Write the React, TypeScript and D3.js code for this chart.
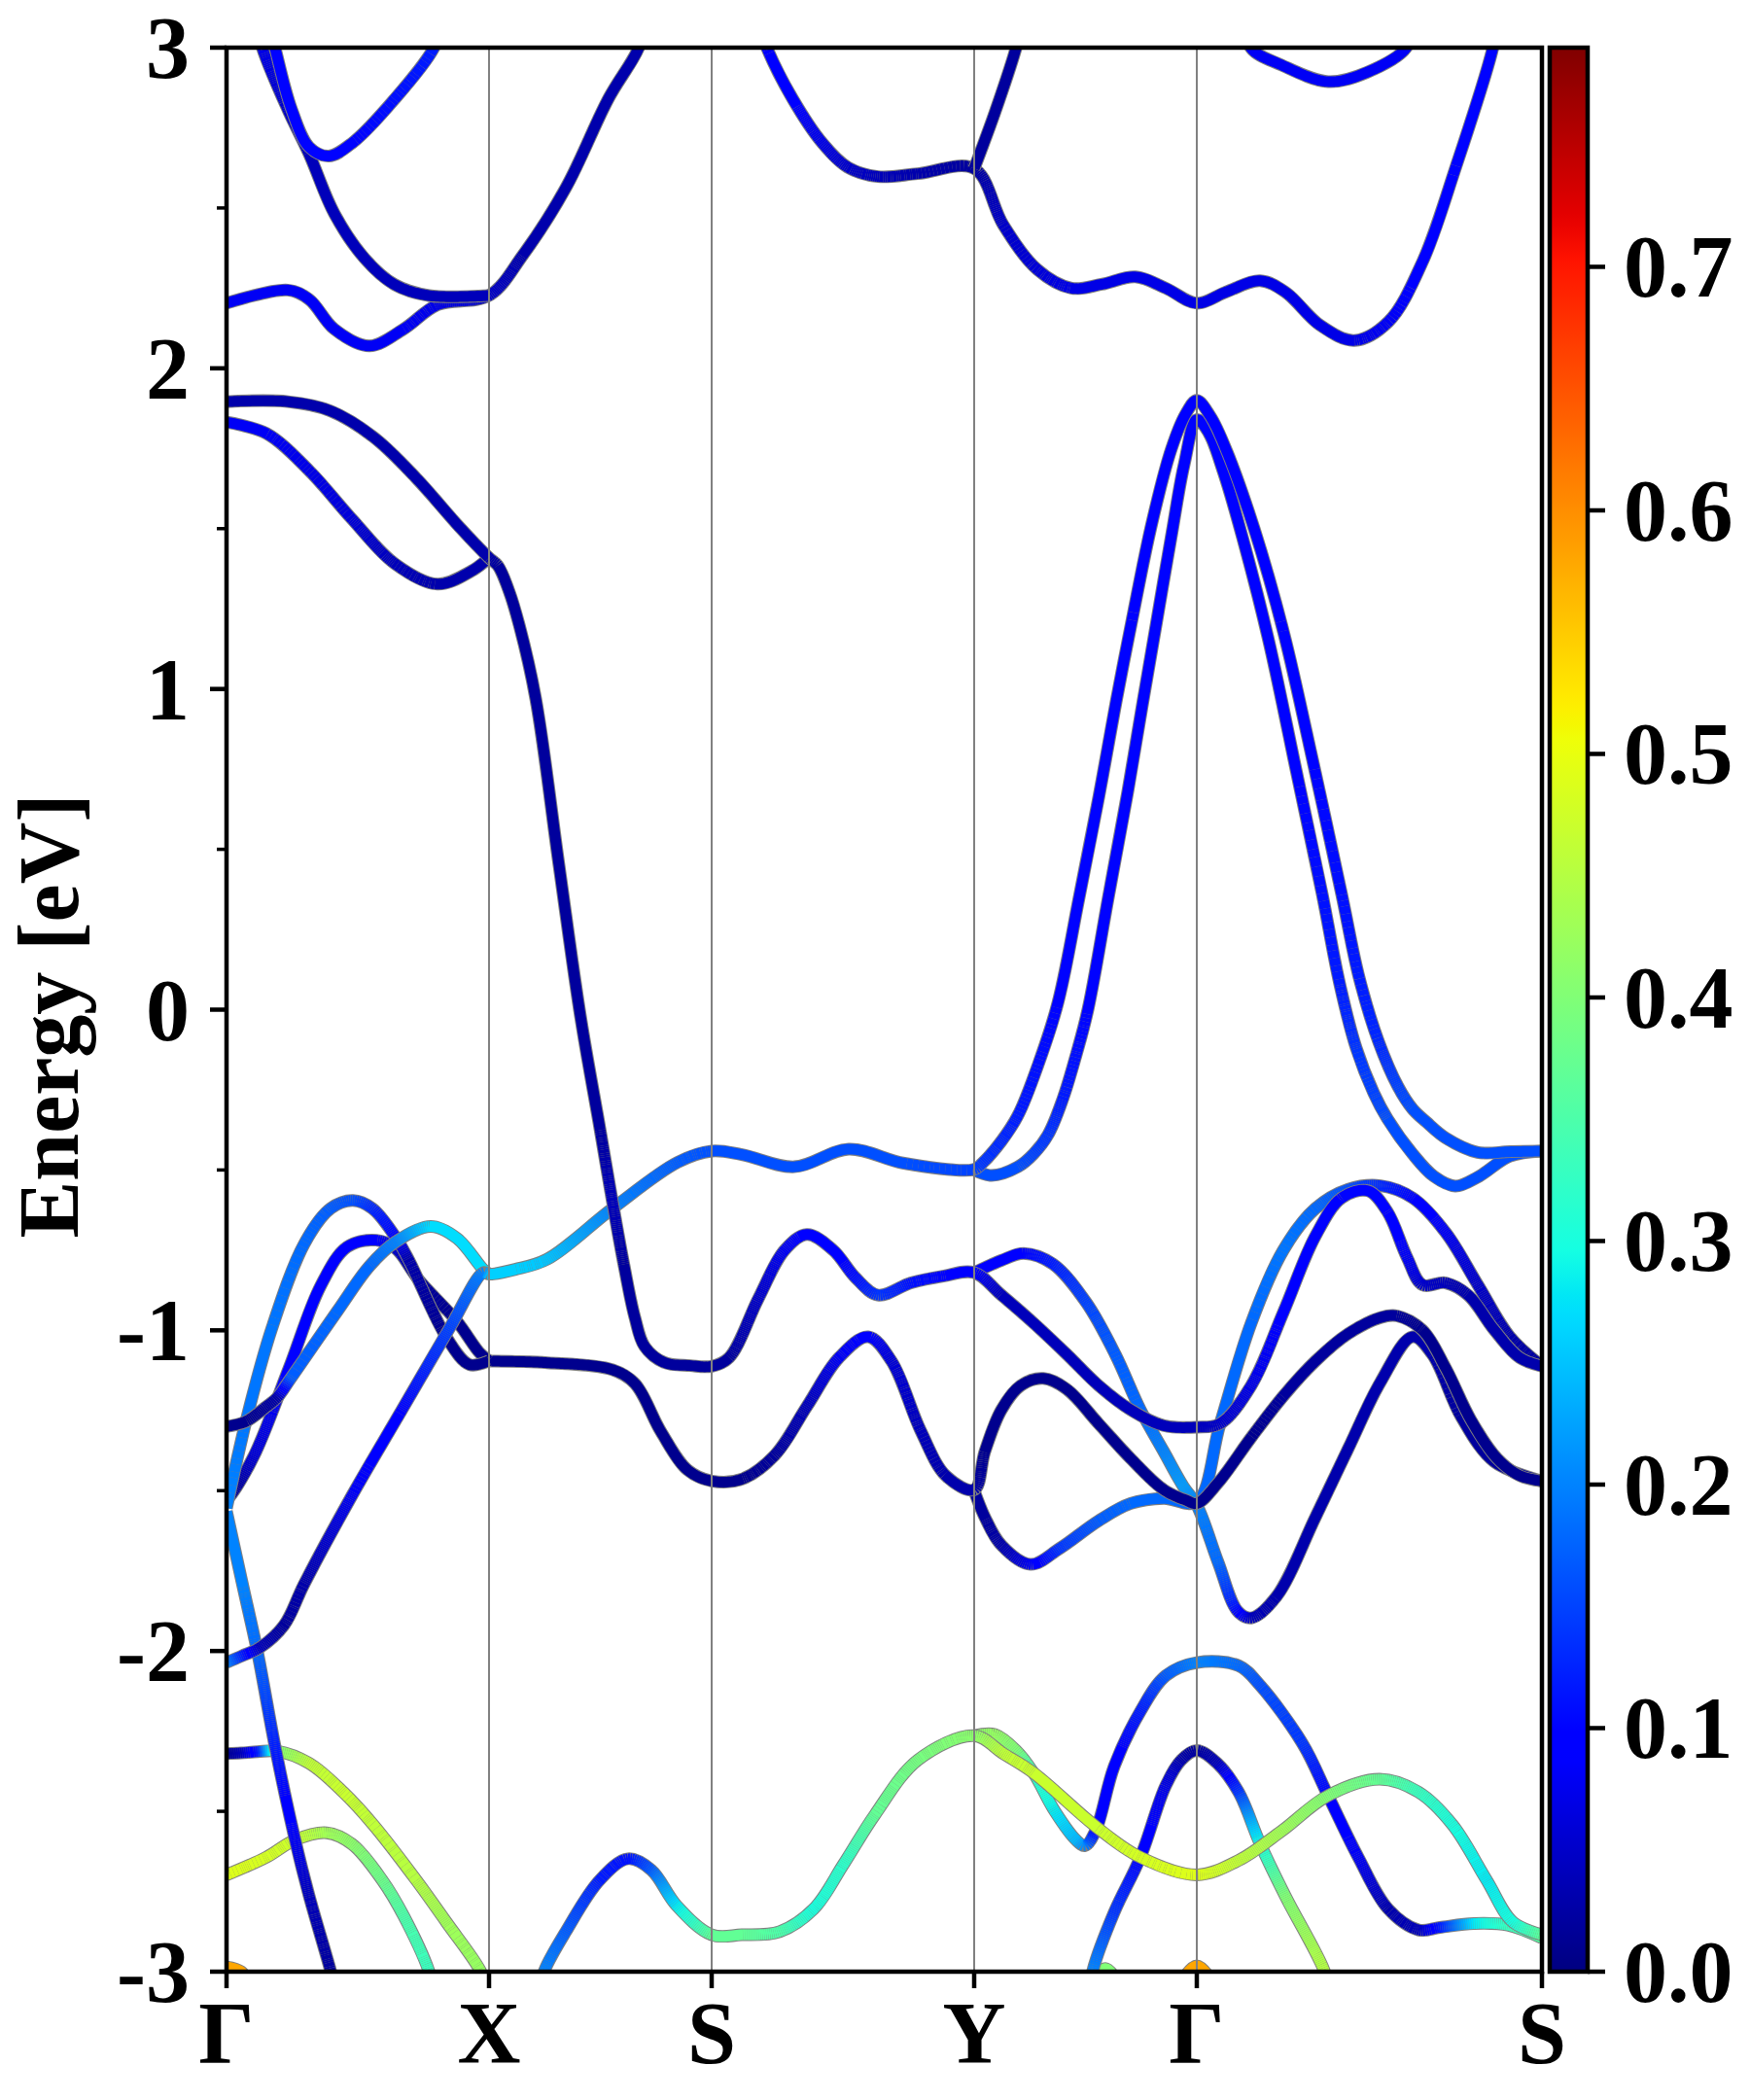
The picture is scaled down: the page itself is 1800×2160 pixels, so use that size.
import React, { useEffect, useRef } from 'react';
import * as d3 from 'd3';

// each point: [k (path distance), energy in eV, projected weight]
type Pt = [number, number, number];

const kTicks = [0, 2.7, 4.99, 7.69, 9.98, 13.53];
const kLabels = ['Γ', 'X', 'S', 'Y', 'Γ', 'S'];
const energyTicks = [-3, -2, -1, 0, 1, 2, 3];
const energyMinorTicks = [-2.5, -1.5, -0.5, 0.5, 1.5, 2.5];
const weightTicks = [0, 0.1, 0.2, 0.3, 0.4, 0.5, 0.6, 0.7];
const weightMax = 0.79;

const band01: Pt[] = [
  [0.0, 1.896, 0.03], [0.63, 1.896, 0.03], [1.07, 1.867, 0.03], [1.51, 1.786, 0.03], [1.95, 1.658, 0.03],
  [2.39, 1.507, 0.03], [2.7, 1.409, 0.03], [2.79, 1.385, 0.02], [2.9, 1.31, 0.02], [3.01, 1.2, 0.02],
  [3.18, 0.97, 0.02], [3.42, 0.45, 0.02], [3.64, -0.02, 0.02], [3.84, -0.37, 0.02], [3.97, -0.6, 0.04],
  [4.09, -0.8, 0.02], [4.2, -0.96, 0.02], [4.3, -1.05, 0.02], [4.5, -1.1, 0.02], [4.77, -1.11, 0.02],
  [4.99, -1.112, 0.02], [5.17, -1.085, 0.02], [5.47, -0.901, 0.05], [5.74, -0.75, 0.08], [5.97, -0.701, 0.09],
  [6.24, -0.75, 0.09], [6.47, -0.836, 0.11], [6.7, -0.89, 0.14], [7.04, -0.852, 0.11], [7.37, -0.831, 0.1],
  [7.69, -0.82, 0.09], [7.97, -0.89, 0.04], [8.3, -0.977, 0.04], [8.64, -1.074, 0.04], [8.97, -1.172, 0.04],
  [9.3, -1.248, 0.04], [9.64, -1.297, 0.04], [9.98, -1.302, 0.04], [10.22, -1.291, 0.05], [10.54, -1.172, 0.07],
  [10.87, -0.944, 0.09], [11.2, -0.706, 0.09], [11.47, -0.587, 0.1], [11.74, -0.565, 0.1], [11.94, -0.63, 0.1],
  [12.14, -0.771, 0.08], [12.3, -0.858, 0.05], [12.54, -0.852, 0.04], [12.77, -0.89, 0.03], [13.04, -0.999, 0.03],
  [13.3, -1.085, 0.03], [13.53, -1.112, 0.03],
];

const band02: Pt[] = [
  [0.0, 1.832, 0.08], [0.41, 1.797, 0.08], [0.85, 1.681, 0.07], [1.29, 1.53, 0.06], [1.73, 1.391, 0.04],
  [2.17, 1.327, 0.03], [2.52, 1.368, 0.03], [2.7, 1.409, 0.03],
];

const band03: Pt[] = [
  [0.0, 2.203, 0.08], [0.63, 2.244, 0.08], [0.85, 2.215, 0.08], [1.11, 2.122, 0.08], [1.47, 2.07, 0.08],
  [1.82, 2.122, 0.08], [2.17, 2.198, 0.07], [2.7, 2.227, 0.05], [3.05, 2.354, 0.03], [3.49, 2.563, 0.03],
  [3.93, 2.842, 0.03], [4.24, 3.0, 0.03], [4.35, 3.12, 0.03],
];

const band04: Pt[] = [
  [0.29, 3.1, 0.08], [0.37, 2.998, 0.07], [0.63, 2.807, 0.05], [0.85, 2.668, 0.04], [1.11, 2.482, 0.04],
  [1.42, 2.343, 0.04], [1.73, 2.261, 0.04], [2.08, 2.227, 0.04], [2.7, 2.227, 0.04],
];

const band05: Pt[] = [
  [0.42, 3.1, 0.1], [0.5, 2.998, 0.1], [0.67, 2.807, 0.1], [0.85, 2.69, 0.1], [1.05, 2.662, 0.1],
  [1.29, 2.702, 0.1], [1.73, 2.84, 0.11], [2.13, 2.998, 0.12], [2.22, 3.08, 0.12],
];

const band06: Pt[] = [
  [5.47, 3.08, 0.1], [5.56, 2.998, 0.1], [5.82, 2.842, 0.09], [6.13, 2.702, 0.07], [6.39, 2.627, 0.05],
  [6.7, 2.598, 0.04], [7.11, 2.607, 0.03], [7.69, 2.623, 0.02], [7.99, 2.447, 0.05], [8.34, 2.308, 0.06],
  [8.69, 2.25, 0.07], [9.0, 2.262, 0.07], [9.35, 2.285, 0.07], [9.66, 2.25, 0.07], [9.98, 2.203, 0.07],
  [10.28, 2.238, 0.07], [10.63, 2.273, 0.07], [10.89, 2.238, 0.07], [11.25, 2.134, 0.07], [11.6, 2.087, 0.07],
  [11.95, 2.145, 0.08], [12.3, 2.331, 0.09], [12.65, 2.633, 0.1], [13.01, 2.981, 0.1], [13.08, 3.08, 0.1],
];

const band07: Pt[] = [
  [7.69, 2.623, 0.02], [7.9, 2.795, 0.02], [8.12, 2.998, 0.02], [8.17, 3.06, 0.02],
];

const band08: Pt[] = [
  [10.47, 3.08, 0.08], [10.54, 2.998, 0.08], [10.85, 2.946, 0.08], [11.33, 2.894, 0.08], [11.73, 2.923, 0.08],
  [12.13, 2.998, 0.08], [12.19, 3.06, 0.08],
];

const band09: Pt[] = [
  [0.0, -2.036, 0.2], [0.16, -2.015, 0.12], [0.34, -1.99, 0.04], [0.59, -1.92, 0.02], [0.8, -1.79, 0.03],
  [1.3, -1.51, 0.08], [1.8, -1.25, 0.1], [2.3, -0.99, 0.15], [2.64, -0.82, 0.2], [2.7, -0.825, 0.26],
  [2.97, -0.81, 0.26], [3.3, -0.778, 0.25], [3.97, -0.62, 0.2], [4.64, -0.476, 0.17], [4.99, -0.441, 0.16],
  [5.3, -0.452, 0.16], [5.84, -0.49, 0.16], [6.4, -0.435, 0.16], [6.97, -0.479, 0.16], [7.69, -0.498, 0.15],
  [7.77, -0.48, 0.14], [7.97, -0.41, 0.13], [8.14, -0.33, 0.12], [8.35, -0.17, 0.11], [8.55, 0.02, 0.1],
  [8.77, 0.35, 0.1], [8.97, 0.66, 0.1], [9.15, 0.96, 0.1], [9.31, 1.21, 0.1], [9.52, 1.52, 0.09],
  [9.72, 1.75, 0.09], [9.87, 1.86, 0.09], [9.98, 1.9, 0.09], [10.12, 1.85, 0.09], [10.29, 1.74, 0.09],
  [10.57, 1.5, 0.09], [10.87, 1.18, 0.1], [11.17, 0.78, 0.1], [11.47, 0.36, 0.11], [11.65, 0.1, 0.12],
  [11.85, -0.1, 0.13], [12.05, -0.24, 0.15], [12.2, -0.31, 0.16], [12.34, -0.35, 0.16], [12.54, -0.4, 0.16],
  [12.87, -0.445, 0.16], [13.2, -0.443, 0.16], [13.53, -0.441, 0.16],
];

const band10: Pt[] = [
  [7.69, -0.5, 0.16], [7.87, -0.517, 0.16], [8.14, -0.49, 0.16], [8.3, -0.45, 0.15], [8.45, -0.39, 0.14],
  [8.6, -0.28, 0.12], [8.74, -0.14, 0.11], [8.86, 0.0, 0.1], [9.07, 0.35, 0.1], [9.27, 0.68, 0.1],
  [9.42, 0.95, 0.1], [9.55, 1.18, 0.1], [9.72, 1.48, 0.1], [9.85, 1.7, 0.1], [9.98, 1.84, 0.1],
  [10.1, 1.8, 0.1], [10.25, 1.68, 0.1], [10.47, 1.45, 0.1], [10.72, 1.15, 0.1], [11.02, 0.72, 0.1],
  [11.27, 0.36, 0.11], [11.45, 0.08, 0.12], [11.62, -0.12, 0.14], [11.8, -0.26, 0.15], [11.94, -0.34, 0.16],
  [12.2, -0.45, 0.16], [12.42, -0.52, 0.16], [12.64, -0.55, 0.16], [12.87, -0.522, 0.16], [13.2, -0.457, 0.16],
  [13.53, -0.441, 0.16],
];

const band11: Pt[] = [
  [0.0, -1.3, 0.01], [0.2, -1.284, 0.01], [0.4, -1.24, 0.02], [0.52, -1.21, 0.03], [0.66, -1.15, 0.17],
  [1.14, -0.94, 0.18], [1.47, -0.8, 0.18], [1.74, -0.724, 0.2], [2.1, -0.676, 0.27], [2.37, -0.713, 0.27],
  [2.64, -0.81, 0.27], [2.7, -0.825, 0.26],
];

const band12: Pt[] = [
  [0.0, -1.554, 0.2], [0.2, -1.284, 0.19], [0.47, -0.99, 0.19], [0.8, -0.73, 0.18], [1.07, -0.62, 0.17],
  [1.3, -0.595, 0.16], [1.5, -0.62, 0.13], [1.74, -0.71, 0.1], [1.87, -0.778, 0.03], [2.27, -1.026, 0.01],
  [2.5, -1.107, 0.01], [2.7, -1.095, 0.01],
];

const band13: Pt[] = [
  [0.0, -1.532, 0.01], [0.1, -1.49, 0.02], [0.3, -1.38, 0.06], [0.64, -1.12, 0.09], [0.97, -0.86, 0.09],
  [1.24, -0.74, 0.09], [1.54, -0.719, 0.09], [1.74, -0.745, 0.05], [1.97, -0.84, 0.02], [2.37, -0.972, 0.01],
  [2.6, -1.069, 0.01], [2.7, -1.095, 0.01],
];

const band14: Pt[] = [
  [2.7, -1.096, 0.01], [3.3, -1.101, 0.01], [3.97, -1.123, 0.01], [4.2, -1.166, 0.01], [4.47, -1.317, 0.01],
  [4.74, -1.435, 0.01], [4.99, -1.47, 0.01], [5.3, -1.464, 0.01], [5.64, -1.389, 0.02], [5.97, -1.237, 0.04],
  [6.3, -1.085, 0.08], [6.6, -1.02, 0.09], [6.84, -1.096, 0.06], [7.14, -1.313, 0.04], [7.4, -1.454, 0.03],
  [7.69, -1.497, 0.03], [7.8, -1.378, 0.01], [7.97, -1.248, 0.01], [8.17, -1.172, 0.01], [8.4, -1.15, 0.01],
  [8.64, -1.183, 0.01], [8.97, -1.291, 0.01], [9.3, -1.4, 0.01], [9.64, -1.497, 0.01], [9.87, -1.53, 0.01],
  [9.98, -1.54, 0.01], [10.2, -1.475, 0.01], [10.54, -1.334, 0.01], [10.87, -1.205, 0.02], [11.2, -1.096, 0.02],
  [11.54, -1.01, 0.02], [11.87, -0.96, 0.02], [12.04, -0.955, 0.02], [12.3, -0.999, 0.01], [12.54, -1.118, 0.01],
  [12.8, -1.28, 0.01], [13.07, -1.4, 0.01], [13.3, -1.453, 0.01], [13.53, -1.47, 0.01],
];

const band15: Pt[] = [
  [7.69, -0.82, 0.09], [7.97, -0.782, 0.09], [8.2, -0.76, 0.1], [8.5, -0.793, 0.12], [8.84, -0.912, 0.15],
  [9.14, -1.074, 0.17], [9.4, -1.248, 0.18], [9.64, -1.378, 0.2], [9.84, -1.486, 0.22], [9.98, -1.545, 0.2],
  [10.2, -1.724, 0.18], [10.4, -1.876, 0.1], [10.54, -1.897, 0.04], [10.8, -1.83, 0.03], [11.2, -1.583, 0.03],
  [11.54, -1.367, 0.03], [11.87, -1.161, 0.03], [12.2, -1.02, 0.03], [12.4, -1.074, 0.03], [12.7, -1.27, 0.02],
  [13.04, -1.41, 0.02], [13.53, -1.47, 0.02],
];

const band16: Pt[] = [
  [7.69, -1.5, 0.02], [7.8, -1.583, 0.02], [7.97, -1.67, 0.03], [8.27, -1.73, 0.08], [8.57, -1.68, 0.14],
  [8.97, -1.594, 0.17], [9.3, -1.54, 0.18], [9.64, -1.524, 0.18], [9.98, -1.535, 0.18], [10.22, -1.291, 0.18],
  [10.54, -0.977, 0.18], [10.87, -0.75, 0.19], [11.2, -0.62, 0.18], [11.54, -0.56, 0.16], [11.87, -0.549, 0.13],
  [12.2, -0.587, 0.1], [12.54, -0.695, 0.08], [12.87, -0.858, 0.05], [13.2, -1.02, 0.03], [13.53, -1.112, 0.02],
];

const band17: Pt[] = [
  [0.0, -1.565, 0.2], [0.17, -1.8, 0.2], [0.32, -2.006, 0.18], [0.5, -2.299, 0.12], [0.7, -2.582, 0.08],
  [0.85, -2.764, 0.04], [1.07, -2.997, 0.02], [1.12, -3.06, 0.02],
];

const band18: Pt[] = [
  [0.0, -2.32, 0.01], [0.15, -2.318, 0.04], [0.32, -2.314, 0.12], [0.52, -2.312, 0.4], [0.85, -2.35, 0.46],
  [1.2, -2.44, 0.47], [1.51, -2.542, 0.46], [1.95, -2.714, 0.45], [2.26, -2.845, 0.43], [2.61, -2.997, 0.42],
  [2.67, -3.05, 0.42],
];

const band19: Pt[] = [
  [0.0, -2.698, 0.49], [0.41, -2.643, 0.48], [0.7, -2.59, 0.47], [1.03, -2.567, 0.43], [1.29, -2.602, 0.41],
  [1.6, -2.714, 0.38], [1.82, -2.825, 0.35], [2.08, -2.997, 0.33], [2.12, -3.05, 0.33],
];

const band20: Pt[] = [
  [3.22, -3.06, 0.2], [3.27, -2.997, 0.2], [3.49, -2.875, 0.17], [3.84, -2.714, 0.12], [4.13, -2.648, 0.11],
  [4.37, -2.683, 0.17], [4.63, -2.794, 0.28], [4.99, -2.885, 0.37], [5.3, -2.885, 0.37], [5.69, -2.875, 0.35],
  [6.04, -2.804, 0.3], [6.35, -2.663, 0.32], [6.67, -2.51, 0.37], [7.11, -2.34, 0.39], [7.69, -2.264, 0.41],
  [7.99, -2.32, 0.46], [8.3, -2.38, 0.47], [8.96, -2.552, 0.47], [9.4, -2.643, 0.48], [9.98, -2.698, 0.49],
  [10.41, -2.653, 0.46], [10.85, -2.562, 0.43], [11.33, -2.451, 0.4], [11.86, -2.4, 0.37], [12.26, -2.44, 0.33],
  [12.61, -2.542, 0.3], [12.96, -2.714, 0.28], [13.23, -2.845, 0.3], [13.53, -2.885, 0.37],
];

const band21: Pt[] = [
  [7.69, -2.264, 0.41], [7.9, -2.26, 0.42], [8.12, -2.31, 0.4], [8.3, -2.38, 0.33], [8.52, -2.5, 0.28],
  [8.74, -2.59, 0.24], [8.83, -2.607, 0.2], [8.94, -2.56, 0.1], [9.13, -2.36, 0.09], [9.4, -2.188, 0.12],
  [9.66, -2.077, 0.17], [9.98, -2.036, 0.2], [10.41, -2.046, 0.18], [10.63, -2.107, 0.16], [11.07, -2.29, 0.14],
  [11.33, -2.451, 0.1], [11.64, -2.643, 0.08], [11.95, -2.805, 0.03], [12.26, -2.87, 0.04], [12.48, -2.862, 0.12],
  [12.83, -2.85, 0.28], [13.18, -2.855, 0.33], [13.53, -2.895, 0.36],
];

const band22: Pt[] = [
  [8.87, -3.08, 0.2], [8.91, -2.997, 0.2], [9.13, -2.815, 0.14], [9.4, -2.643, 0.1], [9.66, -2.42, 0.07],
  [9.82, -2.34, 0.03], [9.98, -2.31, 0.02], [10.19, -2.35, 0.04], [10.41, -2.44, 0.14], [10.63, -2.6, 0.3],
  [10.89, -2.764, 0.4], [11.29, -2.997, 0.45], [11.34, -3.06, 0.45],
];

const band23: Pt[] = [[0.0, -2.985, 0.58], [0.15, -3.0, 0.58], [0.28, -3.06, 0.58]];
const band24: Pt[] = [[9.76, -3.06, 0.58], [9.98, -2.982, 0.58], [10.2, -3.06, 0.58]];
const band25: Pt[] = [[8.85, -3.06, 0.4], [9.04, -2.99, 0.4], [9.22, -3.06, 0.4]];

const bands: Pt[][] = [
  band23, band24, band25, band19, band18, band17, band22, band21, band20,
  band16, band15, band14, band13, band12, band11, band10, band09,
  band02, band01, band03, band04, band05, band06, band07, band08,
];

// matplotlib "jet"
const jetR = d3.scaleLinear<number>().domain([0, 0.35, 0.66, 0.89, 1]).range([0, 0, 1, 1, 0.5]).clamp(true);
const jetG = d3.scaleLinear<number>().domain([0, 0.125, 0.375, 0.64, 0.91, 1]).range([0, 0, 1, 1, 0, 0]).clamp(true);
const jetB = d3.scaleLinear<number>().domain([0, 0.11, 0.34, 0.65, 1]).range([0.5, 1, 1, 0, 0]).clamp(true);
const jet = (t: number) => d3.rgb(jetR(t) * 255, jetG(t) * 255, jetB(t) * 255).formatHex();

const FONT = "'Liberation Serif', 'Times New Roman', serif";

const BandStructure: React.FC = () => {
  const ref = useRef<SVGSVGElement>(null);

  useEffect(() => {
    document.body.style.margin = '0';
    const svg = d3.select(ref.current);
    svg.selectAll('*').remove();

    const left = 233, right = 1586, top = 49, bottom = 2028;
    const x = d3.scaleLinear().domain([0, 13.53]).range([left, right]);
    const y = d3.scaleLinear().domain([-3, 3]).range([bottom, top]);
    const c = d3.scaleLinear().domain([0, weightMax]).range([bottom, top]);
    const colorOf = (w: number) => jet(Math.max(0, Math.min(1, w / weightMax)));

    const defs = svg.append('defs');
    defs.append('clipPath').attr('id', 'plot-clip')
      .append('rect').attr('x', left).attr('y', top).attr('width', right - left).attr('height', bottom - top);

    const grad = defs.append('linearGradient').attr('id', 'jet-grad')
      .attr('x1', 0).attr('y1', 1).attr('x2', 0).attr('y2', 0);
    d3.range(0, 1.0001, 1 / 128).forEach((t) => {
      grad.append('stop').attr('offset', t).attr('stop-color', jet(t));
    });

    const plot = svg.append('g').attr('clip-path', 'url(#plot-clip)');
    const line = d3.line<Pt>().x((d) => x(d[0])).y((d) => y(d[1])).curve(d3.curveCatmullRom.alpha(0.5));

    bands.forEach((band) => {
      const g = plot.append('g');
      const outline = g.append('path')
        .attr('d', line(band) ?? '')
        .attr('fill', 'none')
        .attr('stroke', '#7f7f7f')
        .attr('stroke-width', 13);
      const node = outline.node() as SVGPathElement;
      const len = node.getTotalLength();
      const wAt = d3.scaleLinear().domain(band.map((p) => p[0])).range(band.map((p) => p[2])).clamp(true);
      const step = 2;
      const n = Math.max(1, Math.ceil(len / step));
      const pts: [number, number][] = [];
      for (let i = 0; i <= n; i++) {
        const p = node.getPointAtLength(Math.min(len, i * step));
        pts.push([p.x, p.y]);
      }
      let runColor = '';
      let run: [number, number][] = [];
      const flush = () => {
        if (run.length > 1) {
          g.append('polyline')
            .attr('points', run.map((p) => p.join(',')).join(' '))
            .attr('fill', 'none')
            .attr('stroke', runColor)
            .attr('stroke-width', 11)
            .attr('stroke-linejoin', 'round');
        }
      };
      for (let i = 0; i < n; i++) {
        const mx = (pts[i][0] + pts[i + 1][0]) / 2;
        const col = colorOf(wAt(x.invert(mx)));
        if (col !== runColor) {
          flush();
          runColor = col;
          run = [pts[i]];
        }
        run.push(pts[i + 1]);
      }
      flush();
    });

    // vertical lines at the high-symmetry points
    svg.append('g').selectAll('line')
      .data(kTicks.slice(1, -1))
      .join('line')
      .attr('x1', (d) => x(d)).attr('x2', (d) => x(d))
      .attr('y1', top).attr('y2', bottom)
      .attr('stroke', '#808080').attr('stroke-width', 2);

    // frame
    svg.append('rect')
      .attr('x', left).attr('y', top).attr('width', right - left).attr('height', bottom - top)
      .attr('fill', 'none').attr('stroke', '#000').attr('stroke-width', 4.5);

    // y ticks
    svg.append('g').selectAll('line')
      .data(energyTicks)
      .join('line')
      .attr('x1', left - 17).attr('x2', left)
      .attr('y1', (d) => y(d)).attr('y2', (d) => y(d))
      .attr('stroke', '#000').attr('stroke-width', 4.5);
    svg.append('g').selectAll('line')
      .data(energyMinorTicks)
      .join('line')
      .attr('x1', left - 10).attr('x2', left)
      .attr('y1', (d) => y(d)).attr('y2', (d) => y(d))
      .attr('stroke', '#000').attr('stroke-width', 3.5);
    svg.append('g').selectAll('text')
      .data(energyTicks)
      .join('text')
      .attr('x', 195).attr('y', (d) => y(d) + 31)
      .attr('text-anchor', 'end')
      .attr('font-family', FONT).attr('font-weight', 'bold').attr('font-size', 90)
      .text((d) => String(d));

    // x ticks
    svg.append('g').selectAll('line')
      .data(kTicks)
      .join('line')
      .attr('x1', (d) => x(d)).attr('x2', (d) => x(d))
      .attr('y1', bottom).attr('y2', bottom + 17)
      .attr('stroke', '#000').attr('stroke-width', 4.5);
    svg.append('g').selectAll('text')
      .data(kTicks)
      .join('text')
      .attr('x', (d) => x(d)).attr('y', 2122)
      .attr('text-anchor', 'middle')
      .attr('font-family', FONT).attr('font-weight', 'bold').attr('font-size', 90)
      .text((_, i) => kLabels[i]);

    svg.append('text')
      .attr('transform', 'translate(80,1045) rotate(-90)')
      .attr('text-anchor', 'middle')
      .attr('font-family', FONT).attr('font-weight', 'bold').attr('font-size', 88)
      .text('Energy [eV]');

    // colorbar
    const cbX = 1594, cbW = 39;
    svg.append('rect')
      .attr('x', cbX).attr('y', top).attr('width', cbW).attr('height', bottom - top)
      .attr('fill', 'url(#jet-grad)').attr('stroke', '#000').attr('stroke-width', 4.5);
    svg.append('g').selectAll('line')
      .data(weightTicks)
      .join('line')
      .attr('x1', cbX + cbW).attr('x2', cbX + cbW + 18)
      .attr('y1', (d) => c(d)).attr('y2', (d) => c(d))
      .attr('stroke', '#000').attr('stroke-width', 4.5);
    svg.append('g').selectAll('text')
      .data(weightTicks)
      .join('text')
      .attr('x', 1670).attr('y', (d) => c(d) + 31)
      .attr('font-family', FONT).attr('font-weight', 'bold').attr('font-size', 90)
      .text((d) => d.toFixed(1));
  }, []);

  return <svg ref={ref} width={1800} height={2160} style={{ display: 'block', background: '#fff' }} />;
};

export default function App() {
  return <BandStructure />;
}
